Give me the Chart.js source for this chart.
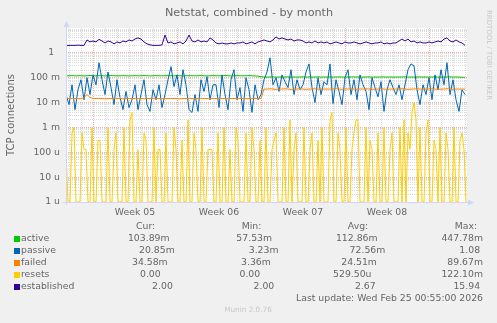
<!DOCTYPE html>
<html>
<head>
<meta charset="utf-8">
<script src="https://cdn.jsdelivr.net/npm/chart.js@4/dist/chart.umd.min.js"></script>
<style>
  html, body { margin: 0; padding: 0; background: #F0F0F0; }
  #wrap { width: 497px; height: 323px; }
  canvas { display: block; }
</style>
</head>
<body>
<div id="wrap"><canvas id="netstat" width="497" height="323"></canvas></div>
<script>
// Netstat month view. Most series hold one sample every 6 hours,
// resets one every 4 hours.
const STEP_HOURS = 6;
const RESET_STEP_HOURS = 4;
const SPAN_HOURS = 802;

const active = [
  0.118, 0.12, 0.122, 0.119, 0.12, 0.121, 0.118, 0.12, 0.123, 0.12, 0.119, 0.121, 0.12, 0.118, 0.12, 0.122, 0.12, 0.119, 0.12, 0.121, 0.12, 0.118,
  0.12, 0.121, 0.119, 0.12, 0.122, 0.12, 0.118, 0.12, 0.121, 0.12, 0.119, 0.12, 0.122, 0.12, 0.119, 0.121, 0.12, 0.118, 0.12, 0.121, 0.12, 0.119,
  0.12, 0.122, 0.12, 0.118, 0.12, 0.121, 0.12, 0.119, 0.12, 0.122, 0.12, 0.118, 0.12, 0.121, 0.12, 0.119, 0.12, 0.122, 0.12, 0.118, 0.115, 0.11,
  0.107, 0.106, 0.107, 0.108, 0.106, 0.107, 0.106, 0.107, 0.108, 0.106, 0.107, 0.106, 0.107, 0.108, 0.106, 0.107, 0.106, 0.107, 0.108, 0.106, 0.107, 0.106,
  0.107, 0.106, 0.107, 0.108, 0.106, 0.107, 0.106, 0.107, 0.108, 0.106, 0.107, 0.106, 0.107, 0.108, 0.106, 0.107, 0.106, 0.107, 0.108, 0.106, 0.107, 0.106,
  0.107, 0.106, 0.107, 0.108, 0.106, 0.107, 0.106, 0.107, 0.108, 0.106, 0.107, 0.106, 0.107, 0.108, 0.106, 0.107, 0.106, 0.107, 0.108, 0.106, 0.107, 0.106, 0.105, 0.104
];

const passive = [
  0.021, 0.0083, 0.052, 0.0052, 0.033, 0.083, 0.013, 0.10, 0.021, 0.13, 0.052, 0.40, 0.083, 0.021, 0.17, 0.040, 0.0083, 0.083, 0.016, 0.0052, 0.028, 0.0063,
  0.013, 0.052, 0.0052, 0.021, 0.083, 0.0083, 0.0044, 0.033, 0.013, 0.052, 0.0063, 0.021,
  0.083, 0.28, 0.044, 0.13, 0.021, 0.21, 0.052, 0.0052, 0.0040, 0.021, 0.0044, 0.083, 0.028, 0.11, 0.013, 0.052,
  0.052, 0.0063, 0.13, 0.021, 0.0052, 0.083, 0.21, 0.013, 0.040, 0.0044, 0.10, 0.033, 0.0040, 0.052, 0.013, 0.021,
  0.083, 0.17, 0.63, 0.052, 0.10, 0.028, 0.13, 0.069, 0.040, 0.21, 0.021, 0.083, 0.033,
  0.052, 0.17, 0.36, 0.040, 0.010, 0.10, 0.021, 0.069, 0.052, 0.36, 0.0091, 0.083, 0.028, 0.0083, 0.10,
  0.21, 0.021, 0.083, 0.013, 0.13, 0.052, 0.028, 0.0052, 0.10, 0.040, 0.017, 0.069, 0.0044, 0.033, 0.083,
  0.040, 0.021, 0.052, 0.013, 0.052, 0.21, 0.36, 0.30, 0.033, 0.0083, 0.052, 0.021, 0.10, 0.013,
  0.13, 0.033, 0.21, 0.052, 0.40, 0.021, 0.083, 0.013, 0.0044, 0.033, 0.021
];

const failed = [
  0.0145, 0.0145, 0.0148, 0.0145, 0.0142, 0.0145, 0.016, 0.021, 0.016, 0.0145, 0.0145, 0.0148, 0.0145, 0.0142, 0.0145, 0.0145, 0.0148, 0.0145, 0.0145, 0.0142, 0.0145, 0.0145,
  0.0145, 0.0148, 0.0145, 0.0145, 0.0142, 0.0145, 0.0145, 0.0148, 0.0145, 0.0145, 0.0142, 0.0145, 0.0145, 0.0148, 0.0145, 0.0145, 0.0142, 0.0145, 0.0145, 0.0148, 0.0145, 0.0145,
  0.0145, 0.0148, 0.0145, 0.0145, 0.0142, 0.0145, 0.0145, 0.0148, 0.0145, 0.0145, 0.0142, 0.0145, 0.0145, 0.0148, 0.0145, 0.0145, 0.0142, 0.0145, 0.0145, 0.0148, 0.0145, 0.0145,
  0.035, 0.035, 0.036, 0.035, 0.034, 0.035, 0.035, 0.036, 0.035, 0.034, 0.035, 0.035, 0.036, 0.035, 0.034, 0.035, 0.035, 0.036, 0.035, 0.034, 0.035, 0.035,
  0.035, 0.035, 0.036, 0.035, 0.034, 0.035, 0.035, 0.036, 0.035, 0.034, 0.035, 0.035, 0.036, 0.035, 0.034, 0.035, 0.035, 0.036, 0.035, 0.034, 0.035, 0.035,
  0.035, 0.035, 0.036, 0.035, 0.034, 0.035, 0.035, 0.036, 0.035, 0.034, 0.035, 0.035, 0.036, 0.035, 0.034, 0.035, 0.035, 0.036, 0.035, 0.034, 0.035, 0.035, 0.035, 0.0346
];

const resets = [
  1.3e-4, 0, 0, 6e-4, 1e-3, 0, 0, 0, 6e-4, 1.3e-4, 1.3e-4, 0, 0, 1e-3, 0, 0, 3e-4, 3e-4, 0, 0,
  0, 1e-3, 0, 0, 1.3e-4, 6e-4, 0, 0, 0, 1e-3, 0, 0, 2e-3, 4e-3, 0, 0, 1.3e-4, 0, 0, 6e-4,
  3e-4, 0, 0, 0, 1e-3, 0, 1.3e-4, 1.3e-4, 0, 0, 6e-4, 0, 0, 0, 1e-3, 1.3e-4, 0, 0, 3e-4, 0,
  0, 2e-3, 0, 0, 6e-4, 1.3e-4, 0, 0, 1e-3, 0, 0, 1.3e-4, 1.3e-4, 1.3e-4, 0, 0, 6e-4, 0, 0, 1e-3,
  0, 0, 1.3e-4, 0, 0, 1e-3, 3e-4, 0, 0, 0, 6e-4, 0, 0, 1e-3, 1.3e-4, 0, 0, 3e-4, 0, 0,
  1e-3, 0, 0, 1.3e-4, 3e-4, 6e-4, 0, 0, 0, 1e-3, 0, 0, 2e-3, 0, 1.3e-4, 6e-4, 0, 0, 0, 1e-3,
  0, 0, 1.3e-4, 6e-4, 0, 0, 3e-4, 0, 1e-3, 0, 0, 0, 2e-3, 4e-3, 0, 0, 6e-4, 1.3e-4, 0, 0,
  1e-3, 0, 0, 1.3e-4, 6e-4, 2e-3, 2e-3, 0, 0, 0, 1e-3, 0, 3e-4, 1.3e-4, 0, 0, 6e-4, 0, 0, 1e-3,
  0, 0, 1.3e-4, 6e-4, 0, 0, 0, 1e-3, 0, 2e-3, 0, 6e-4, 1.3e-4, 4e-3, 1e-2, 2e-3, 0, 1e-3, 0, 0,
  6e-4, 2e-3, 0, 0, 3e-4, 1.3e-4, 0, 1e-3, 0, 0, 6e-4, 1.3e-4, 0, 0, 1e-3, 0, 0, 3e-4, 6e-4, 1.3e-4, 0
];

const established = [
  2.0, 2.0, 2.0, 2.0, 2.05, 2.0, 2.0,
  3.3, 2.75, 3.0, 2.75, 3.5, 3.0, 2.5, 3.0, 2.75, 2.3, 2.75, 2.5, 3.0, 2.75, 3.3, 3.0, 3.6, 4.0, 3.6, 2.75, 2.3,
  2.1, 2.0, 2.0, 2.0, 2.1, 5.2, 2.5, 2.75, 2.3, 2.5, 2.75, 2.3, 3.0, 5.2, 3.0, 2.75, 3.3, 2.75, 3.0, 2.75, 4.0, 3.3,
  2.5, 2.3, 2.5, 2.3, 2.3, 2.5, 2.3, 2.5, 2.5, 2.75, 2.3, 2.5, 2.75, 2.3, 2.75, 3.0, 3.3, 3.0, 2.75, 3.3, 4.4, 3.6,
  4.0, 3.6, 3.3, 3.6, 3.0, 3.3, 3.3, 3.0, 2.5, 2.75, 2.5, 3.0, 2.5, 2.75, 2.5, 2.75, 2.3, 2.5, 2.75, 2.5, 2.3, 2.75,
  2.5, 2.5, 2.75, 2.5, 2.3, 2.5, 2.75, 2.5, 2.3, 2.5, 2.5, 2.75, 2.3, 2.5, 2.3, 2.5, 2.5, 3.0, 3.6, 3.0, 3.6, 2.75,
  3.0, 2.5, 2.75, 2.5, 2.5, 2.75, 2.5, 2.75, 3.0, 2.75, 3.6, 4.0, 3.0, 2.75, 3.3, 2.75, 2.5, 2.0
];

const seriesNames  = ['active', 'passive', 'failed', 'resets', 'established'];
const seriesColors = ['#00CC00', '#0066B3', '#FF8000', '#FFCC00', '#330099'];

const statHeaders = ['Cur:', 'Min:', 'Avg:', 'Max:'];
const statCur = ['103.89m', '20.85m', '34.58m', '0.00', '2.00'];
const statMin = ['57.53m', '3.23m', '3.36m', '0.00', '2.00'];
const statAvg = ['112.86m', '72.56m', '24.51m', '529.50u', '2.67'];
const statMax = ['447.78m', '1.08', '89.67m', '122.10m', '15.94'];

// decade labels from 1e-6 up to 1
const yDecades    = [1e-6, 1e-5, 1e-4, 1e-3, 1e-2, 1e-1, 1];
const yTickLabels = ['1 u', '10 u', '100 u', '1 m', '10 m', '100 m', '1  '];
const Y_MIN = 1e-6, Y_MAX = 10;

// hours into the window where each ISO week starts (Monday 00:00)
const weekStartHours = [54, 222, 390, 558, 726];
const weekLabels = ['Week 05', 'Week 06', 'Week 07', 'Week 08'];

const TITLE = 'Netstat, combined - by month';
const Y_TITLE = 'TCP connections';
const LAST_UPDATE = 'Last update: Wed Feb 25 00:55:00 2026';
const FOOTER = 'Munin 2.0.76';
const WATERMARK = 'RRDTOOL / TOBI OETIKER';

const FONT = '"DejaVu Sans", "Liberation Sans", sans-serif';
const TEXT = '#666666';
const GRID = 'rgba(143,143,143,0.32)';
const MGRID = 'rgba(222,79,79,0.45)';
const AXIS = '#CFD6F8';

const hours = passive.map((_, i) => i * STEP_HOURS);
const resetPoints = resets.map((v, i) => ({
  x: i * RESET_STEP_HOURS,
  // zero samples rest on the floor of the log axis
  y: v > 0 ? v : Y_MIN
}));

// y ticks: 1..9 in every decade
const yTicks = [];
yDecades.forEach(d => {
  for (let m = 1; m <= 9; m++) {
    if (d * m < Y_MAX) yTicks.push({ value: d * m, major: m === 1 });
  }
});

// x ticks every 12 h: day boundaries carry grid lines, week middles carry labels
const xTicks = [];
for (let h = 6; h <= SPAN_HOURS; h += 12) xTicks.push({ value: h });
const isDayLine = h => (h - 6) % 24 === 0;
const isWeekLine = h => weekStartHours.includes(h);
function weekLabelAt(h) {
  for (let i = 0; i < weekLabels.length; i++) {
    if (h === weekStartHours[i] + 84) return weekLabels[i];
  }
  return '';
}

// rrdtool style "%6.2lf%s": padded number plus SI suffix (blank when none)
function gprint(s) {
  const m = s.match(/^([\d.]+)([a-zA-Z]?)$/);
  return m[1].padStart(6, ' ') + (m[2] || ' ');
}

function justify(ctx, parts, left, right, y) {
  const widths = parts.map(p => ctx.measureText(p).width);
  const total = widths.reduce((a, b) => a + b, 0);
  const gap = (right - left - total) / (parts.length - 1);
  let x = left;
  parts.forEach((p, i) => { ctx.fillText(p, x, y); x += widths[i] + gap; });
}

const frame = {
  id: 'frame',
  beforeDraw(chart) {
    const { ctx, chartArea: a } = chart;
    ctx.save();
    ctx.fillStyle = '#F0F0F0';
    ctx.fillRect(0, 0, chart.width, chart.height);
    ctx.fillStyle = '#FFFFFF';
    ctx.fillRect(a.left, a.top, a.right - a.left, a.bottom - a.top);
    ctx.restore();
  },
  afterDatasetsDraw(chart) {
    const { ctx, chartArea: a } = chart;
    ctx.save();
    ctx.strokeStyle = AXIS;
    ctx.fillStyle = AXIS;
    ctx.lineWidth = 1;
    // y axis with arrow
    ctx.beginPath();
    ctx.moveTo(a.left + 0.5, a.bottom + 3);
    ctx.lineTo(a.left + 0.5, a.top - 2);
    ctx.stroke();
    ctx.beginPath();
    ctx.moveTo(a.left - 2.5, a.top - 1);
    ctx.lineTo(a.left + 3.5, a.top - 1);
    ctx.lineTo(a.left + 0.5, a.top - 7);
    ctx.closePath();
    ctx.fill();
    // x axis with arrow
    ctx.beginPath();
    ctx.moveTo(a.left - 3, a.bottom + 0.5);
    ctx.lineTo(a.right + 2, a.bottom + 0.5);
    ctx.stroke();
    ctx.beginPath();
    ctx.moveTo(a.right + 1, a.bottom - 2.5);
    ctx.lineTo(a.right + 1, a.bottom + 3.5);
    ctx.lineTo(a.right + 7, a.bottom + 0.5);
    ctx.closePath();
    ctx.fill();
    ctx.restore();
  },
  afterDraw(chart) {
    const { ctx } = chart;
    ctx.save();
    ctx.fillStyle = TEXT;
    ctx.textBaseline = 'middle';

    ctx.font = '11.2px ' + FONT;
    ctx.textAlign = 'center';
    ctx.fillText(TITLE, 249, 13);

    ctx.save();
    ctx.translate(11, 115);
    ctx.rotate(-Math.PI / 2);
    ctx.font = '10px ' + FONT;
    ctx.fillText(Y_TITLE, 0, 0);
    ctx.restore();

    // legend table
    ctx.font = '9.3px ' + FONT;
    ctx.textAlign = 'left';
    justify(ctx, [' '.repeat(12), statHeaders[0], statHeaders[1], statHeaders[2], statHeaders[3] + '  '], 14, 483, 227);
    seriesNames.forEach((name, i) => {
      const y = 239 + i * 12;
      ctx.fillStyle = seriesColors[i];
      ctx.fillRect(14, y - 3, 6, 6);
      ctx.fillStyle = TEXT;
      justify(ctx, [name.padEnd(11, ' '), gprint(statCur[i]), gprint(statMin[i]), gprint(statAvg[i]), gprint(statMax[i])], 21, 483, y);
    });
    ctx.textAlign = 'right';
    ctx.fillText(LAST_UPDATE, 483, 299);

    ctx.fillStyle = '#C8C8C8';
    ctx.font = '7.3px ' + FONT;
    ctx.textAlign = 'center';
    ctx.fillText(FOOTER, 248, 310);

    ctx.save();
    ctx.translate(489, 55);
    ctx.rotate(Math.PI / 2);
    ctx.font = '7px ' + FONT;
    ctx.fillText(WATERMARK, 0, 0);
    ctx.restore();

    ctx.restore();
  }
};

function lineSet(label, values, color, order) {
  return {
    label,
    data: values,
    borderColor: color,
    backgroundColor: color,
    borderWidth: 1,
    pointRadius: 0,
    tension: 0,
    fill: false,
    order
  };
}

new Chart(document.getElementById('netstat'), {
  type: 'line',
  data: {
    labels: hours,
    datasets: [
      lineSet(seriesNames[0], active, seriesColors[0], 5),
      lineSet(seriesNames[1], passive, seriesColors[1], 4),
      lineSet(seriesNames[2], failed, seriesColors[2], 3),
      lineSet(seriesNames[3], resetPoints, seriesColors[3], 2),
      lineSet(seriesNames[4], established, seriesColors[4], 1)
    ]
  },
  options: {
    responsive: false,
    animation: false,
    devicePixelRatio: 1,
    layout: { padding: { left: 0, top: 28, right: 30, bottom: 103 } },
    plugins: { legend: { display: false }, tooltip: { enabled: false }, title: { display: false } },
    scales: {
      x: {
        type: 'linear',
        min: 0,
        max: SPAN_HOURS,
        afterFit(s) { s.height = 18; },
        afterBuildTicks(s) { s.ticks = xTicks.map(t => ({ value: t.value })); },
        grid: {
          drawTicks: false,
          lineWidth: 1,
          color: c => {
            const h = c.tick ? c.tick.value : -1;
            if (!isDayLine(h)) return 'rgba(0,0,0,0)';
            return isWeekLine(h) ? MGRID : GRID;
          }
        },
        border: { display: false, dash: [1, 1] },
        ticks: {
          autoSkip: false,
          maxRotation: 0,
          padding: 5,
          color: TEXT,
          font: { family: FONT, size: 9.3 },
          callback: v => weekLabelAt(v)
        }
      },
      y: {
        type: 'logarithmic',
        min: Y_MIN,
        max: Y_MAX,
        afterFit(s) { s.width = 66; },
        afterBuildTicks(s) { s.ticks = yTicks.map(t => ({ value: t.value, major: t.major })); },
        grid: {
          drawTicks: false,
          lineWidth: 1,
          color: c => (c.tick && c.tick.major ? MGRID : GRID)
        },
        border: { display: false, dash: [1, 1] },
        ticks: {
          autoSkip: false,
          padding: 6,
          color: TEXT,
          font: { family: FONT, size: 9.3 },
          callback: v => {
            const k = yDecades.indexOf(v);
            return k >= 0 ? yTickLabels[k] : '';
          }
        }
      }
    }
  },
  plugins: [frame]
});
</script>
</body>
</html>
